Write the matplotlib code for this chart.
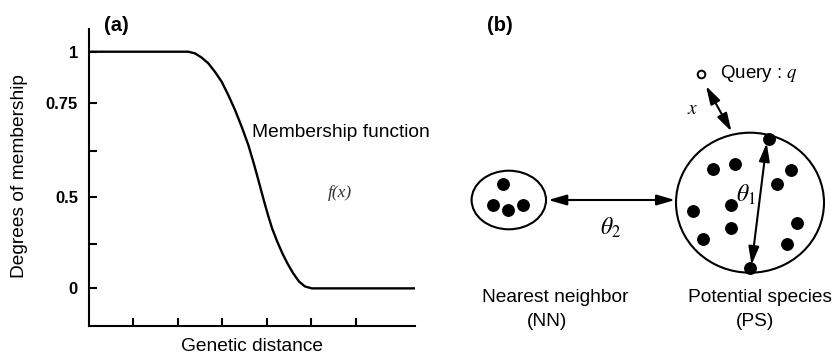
import matplotlib
matplotlib.use("Agg")
import matplotlib.pyplot as plt
from matplotlib.patches import Ellipse

plt.rcParams['font.family'] = ['Liberation Sans', 'DejaVu Sans']
plt.rcParams['mathtext.fontset'] = 'stix'

# panel (a): membership curve
curve_x = [0, 2.231, 2.382, 2.533, 2.681, 2.831, 2.982, 3.130, 3.281, 3.431,
           3.580, 3.692, 3.775, 3.854, 3.933, 4.022, 4.112, 4.225, 4.348,
           4.461, 4.584, 4.719, 4.854, 5.011, 7.326]
curve_y = [1, 1, 0.993, 0.975, 0.951, 0.915, 0.873, 0.817, 0.754, 0.683,
           0.606, 0.535, 0.479, 0.424, 0.369, 0.310, 0.255, 0.200, 0.147,
           0.105, 0.065, 0.029, 0.008, 0, 0]
ytick_pos = [0, 0.187, 0.386, 0.58, 0.783, 1.0]
ytick_labels = ["0", "", "0.5", "", "0.75", "1"]
xtick_pos = [1, 2, 3, 4, 5, 6]

# panel (b): schematic clusters (pixel-like units)
nn_center = (508.8, 200)
nn_size = (74.4, 58.6)
ps_center = (750, 202.7)
ps_size = (148, 140)
nn_dots_x = [503.3, 492.7, 508.3, 522.7]
nn_dots_y = [184.3, 205, 210, 205]
ps_dots_x = [713.3, 735, 791, 776.7, 731, 693.3, 796.7, 730.7, 703.3, 786.7, 769, 750]
ps_dots_y = [169, 164, 170, 184.3, 205, 211, 222.7, 228.3, 239.3, 244.3, 139.3, 268.3]
query = (700.5, 74)

fig = plt.figure(figsize=(8.33, 3.55), dpi=100)
W, H = 833, 355

# ---- panel (a)
ax = fig.add_axes([89 / W, (H - 326) / H, (415 - 89) / W, (326 - 29) / H])
ax.plot(curve_x, curve_y, color='black', lw=1.7, solid_joinstyle='round')
ax.set_xlim(0, 7.326)
ax.set_ylim(-0.159, 1.096)
ax.spines['top'].set_visible(False)
ax.spines['right'].set_visible(False)
for s in ['left', 'bottom']:
    ax.spines[s].set_linewidth(1.5)
ax.set_yticks(ytick_pos)
ax.set_yticklabels(ytick_labels, fontweight='bold', fontsize=12)
ax.set_xticks(xtick_pos)
ax.set_xticklabels([])
ax.tick_params(direction='in', length=6, width=1.5, pad=8)
ax.patch.set_alpha(0)

fig.text(20 / W, (H - 176) / H, "Degrees of membership", rotation=90,
         ha='center', va='center', fontsize=13.8)
fig.text(251.5 / W, (H - 351) / H, "Genetic distance", ha='center',
         va='baseline', fontsize=13.8)
fig.text(104 / W, (H - 25.5) / H, "(a)", fontweight='bold', fontsize=14.5,
         ha='left', va='center')
fig.text(252 / W, (H - 133) / H, "Membership function", fontsize=13.8,
         ha='left', va='center')
fig.text(339.5 / W, (H - 193) / H, "f(x)", family='Liberation Serif',
         style='italic', fontsize=12.5, color='#333333', ha='center', va='center')

# ---- panel (b)
bx = fig.add_axes([420 / W, 0, (W - 420) / W, 1])
bx.set_xlim(420, W)
bx.set_ylim(H, 0)
bx.axis('off')

bx.add_patch(Ellipse(nn_center, *nn_size, fill=False, lw=1.5, ec='black'))
bx.add_patch(Ellipse(ps_center, *ps_size, fill=False, lw=1.5, ec='black'))
bx.scatter(nn_dots_x, nn_dots_y, s=68, color='black', zorder=3)
bx.scatter(ps_dots_x, ps_dots_y, s=68, color='black', zorder=3)
bx.plot([query[0]], [query[1]], 'o', ms=5.5, mfc='white', mec='black', mew=1.4)

arrow = dict(arrowstyle='<|-|>,head_length=1.1,head_width=0.32', lw=1.5,
             color='black', shrinkA=0, shrinkB=0)
bx.annotate('', xy=(548.3, 200), xytext=(675, 200), arrowprops=arrow)
bx.annotate('', xy=(766.7, 143), xytext=(751.5, 265), arrowprops=arrow)
bx.annotate('', xy=(706, 86), xytext=(731.5, 131.5), arrowprops=arrow)

bx.text(611, 228, r'$\theta_2$', fontsize=17, ha='center', va='center')
bx.text(746, 195, r'$\theta_1$', fontsize=17, ha='center', va='center')
bx.text(692.5, 110, r'$x$', fontsize=14, ha='center', va='center')
bx.text(720, 73, r'Query : $q$', fontsize=13.5, ha='left', va='center')
bx.text(500, 25.5, "(b)", fontweight='bold', fontsize=14.5, ha='center', va='center')
bx.text(555.5, 298, "Nearest neighbor", fontsize=13.8, ha='center', va='center')
bx.text(547, 322, "(NN)", fontsize=13.8, ha='center', va='center')
bx.text(760.5, 298, "Potential species", fontsize=13.8, ha='center', va='center')
bx.text(755, 322, "(PS)", fontsize=13.8, ha='center', va='center')

fig.savefig("out.png", dpi=100)
